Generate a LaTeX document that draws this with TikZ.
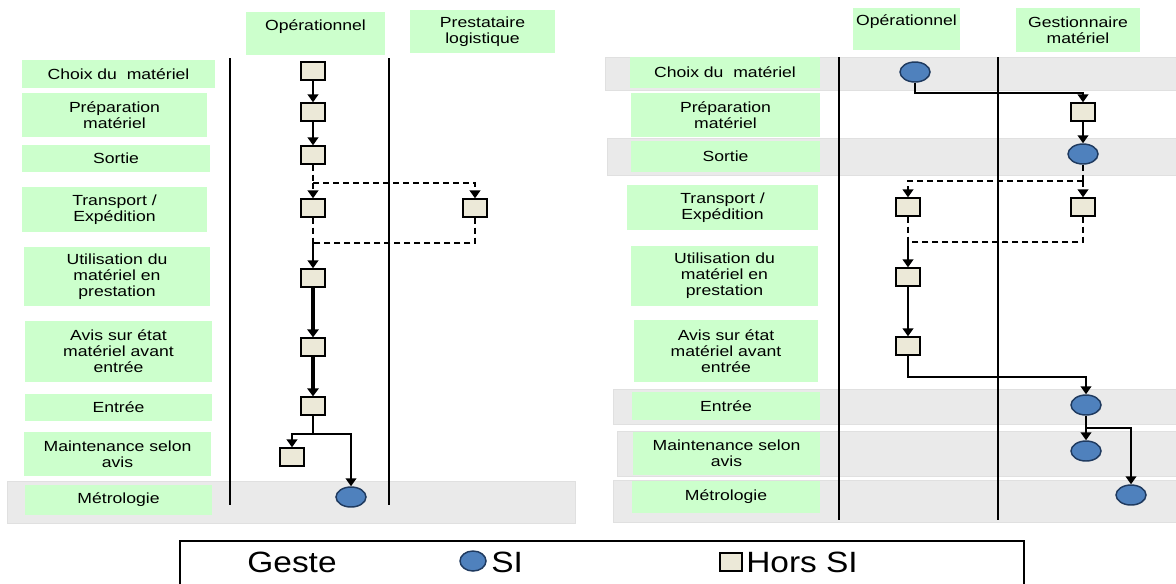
\documentclass[tikz,border=0pt]{standalone}
\usepackage{fontspec}
\setmainfont{Liberation Sans}[FakeStretch=1.2]
\newfontfamily\legfont{Liberation Sans}[FakeStretch=1.14]
\usetikzlibrary{arrows.meta,shapes.geometric,shadows}
\definecolor{lgreen}{HTML}{CCFFCC}
\definecolor{bandgray}{HTML}{EAEAEA}
\definecolor{sqfill}{HTML}{ECE9D8}
\definecolor{sifill}{HTML}{4F81BD}
\definecolor{siborder}{HTML}{1F3A5F}
\begin{document}
\begin{tikzpicture}[x=0.75pt,y=-0.75pt,
  font=\fontsize{11}{12}\selectfont,
  lbl/.style={fill=lgreen, inner sep=0pt, align=center},
  hsq/.style={draw=black, line width=1pt, fill=sqfill, minimum width=18pt, minimum height=13.5pt, inner sep=0pt,
     drop shadow={shadow xshift=1pt, shadow yshift=-1pt, fill=black!65, opacity=1}},
  si/.style={ellipse, draw=siborder, line width=1.1pt, fill=sifill, minimum width=22.5pt, minimum height=15pt, inner sep=0pt},
  arr/.style={-{Triangle[width=8pt,length=6pt]}, line width=1.8pt},
  thickarr/.style={-{Triangle[width=8.5pt,length=6pt]}, line width=2.6pt},
  dsh/.style={dash pattern=on 4.5pt off 3pt, line width=1.8pt},
  plain/.style={line width=1.8pt},
  lane/.style={line width=2.1pt},
  bandst/.style={fill=bandgray, draw=black!12, line width=0.75pt}
]
\useasboundingbox (0,0) rectangle (1176,583);

% ---------- gray bands ----------
\fill[bandst] (7,481) rectangle (575,523);
\fill[bandst] (605,57) rectangle (1176,90);
\fill[bandst] (607,138) rectangle (1176,175);
\fill[bandst] (613,389) rectangle (1176,424);
\fill[bandst] (617,431) rectangle (1176,476);
\fill[bandst] (613,480) rectangle (1176,522);

% ---------- lane lines ----------
\draw[lane] (230,58) -- (230,505);
\draw[lane] (389,58) -- (389,505);
\draw[lane] (839,57) -- (839,520);
\draw[lane] (998,57) -- (998,520);

% ---------- headers ----------
\node[lbl, minimum width=104.25pt, minimum height=32.25pt] (hL1) at (315.5,33.5) {};
\node[anchor=base] (tL1) at (315.5,30) {Opérationnel};
\node[lbl, minimum width=108.75pt, minimum height=32.25pt] (hL2) at (482.5,31.5) {Prestataire\\logistique};
\node[lbl, minimum width=80.25pt, minimum height=31.5pt] (hR1) at (906.5,29) {};
\node[anchor=base] (tR1) at (906.5,25) {Opérationnel};
\node[lbl, minimum width=93pt, minimum height=33pt] (hR2) at (1078,30) {Gestionnaire\\matériel};

% ---------- left row labels ----------
\node[lbl, minimum width=144.75pt, minimum height=21pt] (lL1) at (118.5,74) {Choix du\ \ matériel};
\node[lbl, minimum width=138.75pt, minimum height=33pt] (lL2) at (114.5,115) {Préparation\\matériel};
\node[lbl, minimum width=141pt, minimum height=20.25pt] (lL3) at (116,158.5) {Sortie};
\node[lbl, minimum width=138.75pt, minimum height=33.75pt] (lL4) at (114.5,209.5) {Transport /\\Expédition};
\node[lbl, minimum width=139.5pt, minimum height=44.25pt] (lL5) at (117,276.5) {Utilisation du\\matériel en\\prestation};
\node[lbl, minimum width=140.25pt, minimum height=45.75pt] (lL6) at (118.5,351.5) {Avis sur état\\matériel avant\\entrée};
\node[lbl, minimum width=140.25pt, minimum height=20.25pt] (lL7) at (118.5,407.5) {Entrée};
\node[lbl, minimum width=140.25pt, minimum height=33pt] (lL8) at (117.5,454) {Maintenance selon\\avis};
\node[lbl, minimum width=140.25pt, minimum height=22.5pt] (lL9) at (118.5,500) {Métrologie};

% ---------- right row labels ----------
\node[lbl, minimum width=142.5pt, minimum height=23.25pt] (lR1) at (725,72.5) {Choix du\ \ matériel};
\node[lbl, minimum width=141.75pt, minimum height=33pt] (lR2) at (725.5,115) {Préparation\\matériel};
\node[lbl, minimum width=141.75pt, minimum height=23.25pt] (lR3) at (725.5,156.5) {Sortie};
\node[lbl, minimum width=143.25pt, minimum height=33.75pt] (lR4) at (722.5,207.5) {Transport /\\Expédition};
\node[lbl, minimum width=140.25pt, minimum height=45pt] (lR5) at (724.5,276) {Utilisation du\\matériel en\\prestation};
\node[lbl, minimum width=138pt, minimum height=46.5pt] (lR6) at (726,351) {Avis sur état\\matériel avant\\entrée};
\node[lbl, minimum width=141pt, minimum height=21pt] (lR7) at (726,406) {Entrée};
\node[lbl, minimum width=140.25pt, minimum height=32.25pt] (lR8) at (726.5,453.5) {Maintenance selon\\avis};
\node[lbl, minimum width=141pt, minimum height=24pt] (lR9) at (726,497) {Métrologie};

% ---------- left shapes ----------
\node[hsq] (Lsq1) at (313,71) {};
\node[hsq] (Lsq2) at (313,112) {};
\node[hsq] (Lsq3) at (313,155) {};
\node[hsq] (Lsq4a) at (313,208) {};
\node[hsq] (Lsq4b) at (475,208) {};
\node[hsq] (Lsq5) at (313,278) {};
\node[hsq] (Lsq6) at (313,347) {};
\node[hsq] (Lsq7) at (313,406) {};
\node[hsq] (Lsq8) at (292,457) {};
\node[si] (Lel9) at (351,497) {};

\coordinate (cL3) at (313,183);
\coordinate (cL4) at (313,243);
\coordinate (cL7) at (313,434);

\draw[arr] (Lsq1) -- (Lsq2);
\draw[arr] (Lsq2) -- (Lsq3);
\draw[dsh] (Lsq3) -- (cL3);
\draw[dsh,arr] (cL3) -- (Lsq4a);
\draw[dsh,arr] (cL3) -| (Lsq4b);
\draw[dsh] (Lsq4a) -- (cL4);
\draw[dsh] (Lsq4b) |- (cL4);
\draw[arr] (cL4) -- (Lsq5);
\draw[thickarr] (Lsq5) -- (Lsq6);
\draw[thickarr] (Lsq6) -- (Lsq7);
\draw[plain] (Lsq7) -- (cL7);
\draw[arr] (cL7) -| (Lsq8);
\draw[arr] (cL7) -| (Lel9);

% ---------- right shapes ----------
\node[si] (Rel1) at (915,72) {};
\node[hsq] (Rsq2) at (1083,112) {};
\node[si] (Rel3) at (1083,154) {};
\node[hsq] (Rsq4a) at (908,207) {};
\node[hsq] (Rsq4b) at (1083,207) {};
\node[hsq] (Rsq5) at (908,277) {};
\node[hsq] (Rsq6) at (908,346) {};
\node[si] (Rel7) at (1086,405) {};
\node[si] (Rel8) at (1086,451) {};
\node[si] (Rel9) at (1131,495) {};

\coordinate (cR1) at (1083,93);
\coordinate (cR3) at (1083,181);
\coordinate (cR4) at (908,242);
\coordinate (cR6) at (1086,377);
\coordinate (cR7) at (1086,428);

\draw[arr] (Rel1.south) |- (cR1) -- (Rsq2);
\draw[arr] (Rsq2) -- (Rel3);
\draw[dsh] (Rel3) -- (cR3);
\draw[dsh,arr] (cR3) -- (Rsq4b);
\draw[dsh,arr] (cR3) -| (Rsq4a);
\draw[dsh] (Rsq4a) -- (cR4);
\draw[dsh] (Rsq4b) |- (cR4);
\draw[arr] (cR4) -- (Rsq5);
\draw[arr] (Rsq5) -- (Rsq6);
\draw[arr] (Rsq6.south) |- (cR6) -- (Rel7);
\draw[plain] (Rel7) -- (cR7);
\draw[arr] (cR7) -- (Rel8);
\draw[arr] (cR7) -| (Rel9);

% ---------- legend ----------
\draw[line width=1.5pt] (180,590) -- (180,541) -- (1024,541) -- (1024,590);
\node[anchor=base, font=\legfont\fontsize{22}{24}\selectfont] (gGeste) at (292,572) {Geste};
\node[si, minimum width=19.5pt, minimum height=15pt] (gSI) at (473,561) {};
\node[anchor=base west, inner sep=0pt, font=\legfont\fontsize{22}{24}\selectfont] (gSItxt) at (491,572) {SI};
\node[hsq, minimum width=16.5pt, minimum height=13.5pt] (gHS) at (731,562) {};
\node[anchor=base west, inner sep=0pt, font=\legfont\fontsize{22}{24}\selectfont] (gHStxt) at (746,572) {Hors SI};
\end{tikzpicture}
\end{document}
